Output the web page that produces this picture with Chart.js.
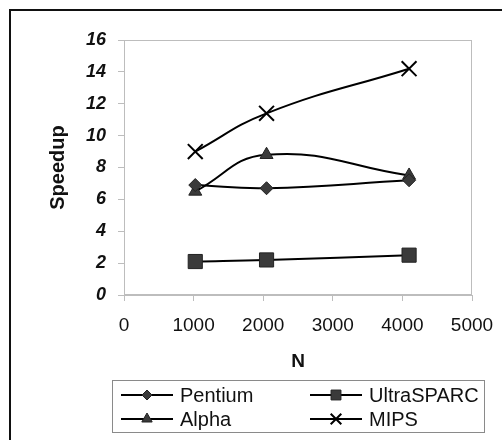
<!DOCTYPE html>
<html>
<head>
<meta charset="utf-8">
<script src="https://cdn.jsdelivr.net/npm/chart.js@4/dist/chart.umd.min.js"></script>
<style>
  html, body { margin: 0; padding: 0; background: #fff; }
  #wrap { width: 502px; height: 440px; position: relative; }
</style>
</head>
<body>
<div id="wrap"><canvas id="c" width="502" height="440"></canvas></div>
<script>
// ---- data ----
const nValues    = [1024, 2048, 4096];
const pentium    = [6.9, 6.7, 7.2];
const ultrasparc = [2.1, 2.2, 2.5];
const alpha      = [6.5, 8.8, 7.5];
const mips       = [9.0, 11.4, 14.2];
const seriesNames = ['Pentium', 'UltraSPARC', 'Alpha', 'MIPS'];
const xAxisTitle = 'N';
const yAxisTitle = 'Speedup';

const FONT = "'Liberation Sans', Arial, sans-serif";
const toPts = vals => nValues.map((n, i) => ({ x: n, y: vals[i] }));

const markerStyles = [
  { pointStyle: 'rectRot',  radius: 6.5, legendRadius: 5 },
  { pointStyle: 'rect',     radius: 10,  legendRadius: 7 },
  { pointStyle: 'triangle', radius: 7.5, legendRadius: 6 },
  { pointStyle: 'crossRot', radius: 10.5, legendRadius: 7.5 }
];
const seriesVals = [pentium, ultrasparc, alpha, mips];

const datasets = seriesNames.map((name, i) => ({
  label: name,
  data: toPts(seriesVals[i]),
  borderColor: '#000',
  borderWidth: 2,
  backgroundColor: '#3a3a3a',
  pointBackgroundColor: '#3a3a3a',
  pointBorderColor: i === 3 ? '#000' : '#222',
  pointBorderWidth: i === 3 ? 2 : 1,
  pointStyle: markerStyles[i].pointStyle,
  pointRadius: markerStyles[i].radius,
  pointHoverRadius: markerStyles[i].radius,
  tension: 0.45,
  fill: false
}));

const framePlugin = {
  id: 'frame',
  beforeDraw(chart) {
    const ctx = chart.ctx;
    ctx.save();
    ctx.fillStyle = '#fff';
    ctx.fillRect(0, 0, chart.width, chart.height);
    ctx.strokeStyle = '#111';
    ctx.lineWidth = 2;
    ctx.beginPath();
    ctx.moveTo(10, chart.height + 2);
    ctx.lineTo(10, 10);
    ctx.lineTo(chart.width + 2, 10);
    ctx.stroke();
    ctx.restore();
  },
  beforeDatasetsDraw(chart) {
    const { ctx, chartArea: a } = chart;
    ctx.save();
    ctx.strokeStyle = '#bdbdbd';
    ctx.lineWidth = 1;
    ctx.strokeRect(Math.round(a.left) + 0.5, Math.round(a.top) + 0.5,
                   Math.round(a.right - a.left) - 1, Math.round(a.bottom - a.top) - 1);
    ctx.restore();
  }
};

const legendPlugin = {
  id: 'boxLegend',
  afterDraw(chart) {
    const ctx = chart.ctx;
    ctx.save();
    ctx.strokeStyle = '#8a8a8a';
    ctx.lineWidth = 1;
    ctx.strokeRect(112.5, 380.5, 372, 52);
    const cols = [121, 310];
    const rows = [395, 419];
    chart.data.datasets.forEach((ds, i) => {
      const x0 = cols[i % 2];
      const y = rows[Math.floor(i / 2)];
      ctx.strokeStyle = '#000';
      ctx.lineWidth = 2;
      ctx.beginPath();
      ctx.moveTo(x0, y);
      ctx.lineTo(x0 + 52, y);
      ctx.stroke();
      ctx.fillStyle = '#3a3a3a';
      ctx.strokeStyle = i === 3 ? '#000' : '#222';
      ctx.lineWidth = i === 3 ? 2 : 1;
      Chart.helpers.drawPoint(ctx, {
        pointStyle: markerStyles[i].pointStyle,
        radius: markerStyles[i].legendRadius,
        rotation: 0,
        borderWidth: ctx.lineWidth
      }, x0 + 26, y);
      ctx.fillStyle = '#111';
      ctx.font = '20px ' + FONT;
      ctx.textBaseline = 'middle';
      ctx.textAlign = 'left';
      ctx.fillText(ds.label, x0 + 59, y + 1);
    });
    ctx.restore();
  }
};

new Chart(document.getElementById('c'), {
  type: 'line',
  data: { datasets },
  plugins: [framePlugin, legendPlugin],
  options: {
    responsive: false,
    animation: false,
    devicePixelRatio: 1,
    layout: { padding: { left: 0, right: 30, top: 40, bottom: 67 } },
    plugins: { legend: { display: false }, tooltip: { enabled: false } },
    scales: {
      x: {
        type: 'linear',
        min: 0, max: 5000,
        afterFit: s => { s.height = 78; s.paddingLeft = 0; s.paddingRight = 0; },
        ticks: { stepSize: 1000, color: '#111', font: { family: FONT, size: 19 }, padding: 13, maxRotation: 0,
                 callback: v => String(v) },
        grid: { drawOnChartArea: false, tickLength: 6, color: '#bdbdbd' },
        border: { color: '#bdbdbd' },
        title: { display: true, text: xAxisTitle, color: '#111',
                 font: { family: FONT, size: 19, weight: 'bold' }, padding: { top: 0, bottom: 0 } }
      },
      y: {
        min: 0, max: 16,
        afterFit: s => { s.width = 124; },
        ticks: { stepSize: 2, color: '#111', font: { family: FONT, size: 18, weight: 'bold', style: 'italic' }, padding: 12 },
        grid: { drawOnChartArea: false, tickLength: 6, color: '#bdbdbd' },
        border: { color: '#bdbdbd' },
        title: { display: true, text: yAxisTitle, color: '#111',
                 font: { family: FONT, size: 20, weight: 'bold' }, padding: { top: 46, bottom: 0 } }
      }
    }
  }
});
</script>
</body>
</html>
